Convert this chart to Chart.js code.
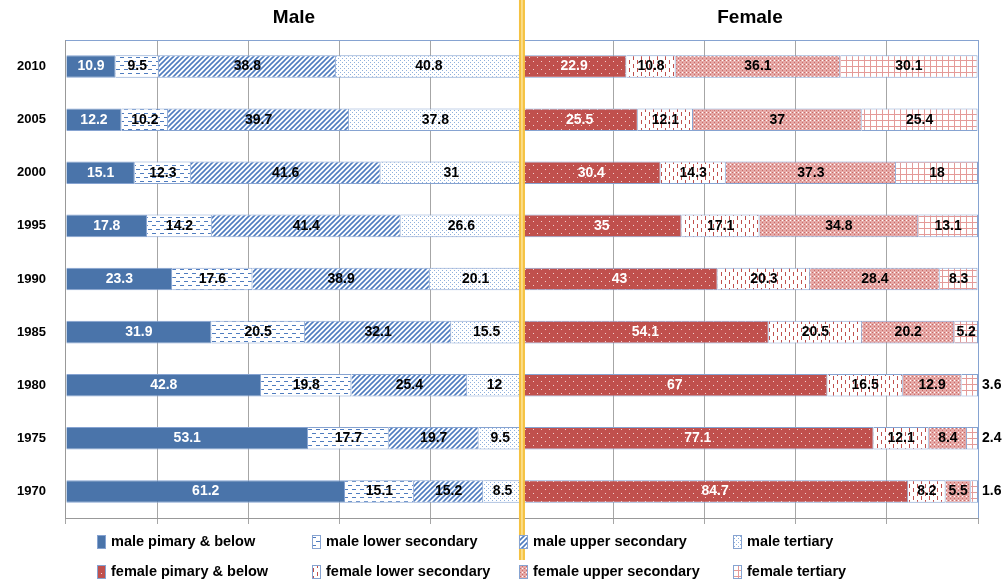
<!DOCTYPE html>
<html>
<head>
<meta charset="utf-8">
<script src="https://cdn.jsdelivr.net/npm/chart.js@4"></script>
<style>
  body { margin: 0; background: #fff; }
  #wrap { width: 1005px; height: 583px; }
</style>
</head>
<body>
<div id="wrap"><canvas id="chart"></canvas></div>
<script>
const years = ['2010', '2005', '2000', '1995', '1990', '1985', '1980', '1975', '1970'];

const malePrimary = [10.9, 12.2, 15.1, 17.8, 23.3, 31.9, 42.8, 53.1, 61.2];
const maleLower = [9.5, 10.2, 12.3, 14.2, 17.6, 20.5, 19.8, 17.7, 15.1];
const maleUpper = [38.8, 39.7, 41.6, 41.4, 38.9, 32.1, 25.4, 19.7, 15.2];
const maleTertiary = [40.8, 37.8, 31, 26.6, 20.1, 15.5, 12, 9.5, 8.5];

const femalePrimary = [22.9, 25.5, 30.4, 35, 43, 54.1, 67, 77.1, 84.7];
const femaleLower = [10.8, 12.1, 14.3, 17.1, 20.3, 20.5, 16.5, 12.1, 8.2];
const femaleUpper = [36.1, 37, 37.3, 34.8, 28.4, 20.2, 12.9, 8.4, 5.5];
const femaleTertiary = [30.1, 25.4, 18, 13.1, 8.3, 5.2, 3.6, 2.4, 1.6];

const FONT = '"Liberation Sans", Arial, sans-serif';

function pattern(draw, size) {
    const c = document.createElement('canvas');
    c.width = size; c.height = size;
    const g = c.getContext('2d');
    draw(g, size);
    return c.getContext('2d').createPattern(c, 'repeat');
}

const pMaleLower = pattern((g, s) => {
    g.fillStyle = '#fff'; g.fillRect(0, 0, s, s);
    g.fillStyle = '#4f7cbf';
    g.fillRect(0, 1, 4, 1); g.fillRect(4, 5, 4, 1);
}, 8);
const pMaleUpper = pattern((g, s) => {
    g.fillStyle = '#fff'; g.fillRect(0, 0, s, s);
    g.strokeStyle = '#4f7cbf'; g.lineWidth = 1.6;
    g.beginPath();
    g.moveTo(0, s); g.lineTo(s, 0);
    g.moveTo(-1, 1); g.lineTo(1, -1);
    g.moveTo(s - 1, s + 1); g.lineTo(s + 1, s - 1);
    g.stroke();
}, 5);
const pMaleTertiary = pattern((g, s) => {
    g.fillStyle = '#fff'; g.fillRect(0, 0, s, s);
    g.fillStyle = '#8fb0dc';
    g.fillRect(0, 0, 1, 1); g.fillRect(2, 2, 1, 1);
}, 4);
const pFemalePrimary = pattern((g, s) => {
    g.fillStyle = '#c0504d'; g.fillRect(0, 0, s, s);
    g.fillStyle = '#f2d0cf';
    g.fillRect(1, 1, 1, 1); g.fillRect(5, 5, 1, 1);
}, 8);
const pFemaleLower = pattern((g, s) => {
    g.fillStyle = '#fff'; g.fillRect(0, 0, s, s);
    g.fillStyle = '#c0504d';
    g.fillRect(1, 0, 1, 4); g.fillRect(5, 4, 1, 4);
}, 8);
const pFemaleUpper = pattern((g, s) => {
    g.fillStyle = '#e6a9a7'; g.fillRect(0, 0, s, s);
    g.fillStyle = '#c96b68';
    g.fillRect(0, 0, 1, 1); g.fillRect(2, 2, 1, 1);
    g.fillStyle = '#fff';
    g.fillRect(2, 0, 1, 1);
}, 4);
const pFemaleTertiary = pattern((g, s) => {
    g.fillStyle = '#fff'; g.fillRect(0, 0, s, s);
    g.fillStyle = '#e49a98';
    g.fillRect(0, 0, 1, s); g.fillRect(0, 0, s, 1);
}, 6);

const series = [
    { label: 'male pimary & below', data: malePrimary, bg: '#4a74aa', text: '#fff' },
    { label: 'male lower secondary', data: maleLower, bg: pMaleLower, text: '#000' },
    { label: 'male upper secondary', data: maleUpper, bg: pMaleUpper, text: '#000' },
    { label: 'male tertiary', data: maleTertiary, bg: pMaleTertiary, text: '#000' },
    { label: 'female pimary & below', data: femalePrimary, bg: pFemalePrimary, text: '#fff' },
    { label: 'female lower secondary', data: femaleLower, bg: pFemaleLower, text: '#000' },
    { label: 'female upper secondary', data: femaleUpper, bg: pFemaleUpper, text: '#000' },
    { label: 'female tertiary', data: femaleTertiary, bg: pFemaleTertiary, text: '#000' }
];

// Values inside the bars, small last ones outside
const barLabels = {
    id: 'barLabels',
    afterDatasetsDraw(chart) {
        const ctx = chart.ctx;
        ctx.save();
        ctx.font = 'bold 14px ' + FONT;
        ctx.textBaseline = 'middle';
        chart.data.datasets.forEach((ds, di) => {
            chart.getDatasetMeta(di).data.forEach((bar, i) => {
                const v = ds.data[i];
                const left = Math.min(bar.x, bar.base), right = Math.max(bar.x, bar.base);
                if (di === 7 && v < 4) {
                    ctx.fillStyle = '#000';
                    ctx.textAlign = 'left';
                    ctx.fillText(String(v), right + 4, bar.y);
                } else {
                    ctx.fillStyle = series[di].text;
                    ctx.textAlign = 'center';
                    ctx.fillText(String(v), (left + right) / 2, bar.y);
                }
            });
        });
        ctx.restore();
    }
};

// Panel titles, the orange divider and a 4x2 legend
const panels = {
    id: 'panels',
    afterDraw(chart) {
        const ctx = chart.ctx;
        const x = chart.scales.x;
        const area = chart.chartArea;
        ctx.save();
        ctx.strokeStyle = '#86a3d1';
        ctx.lineWidth = 1;
        ctx.beginPath();
        ctx.moveTo(area.left, area.top + 0.5); ctx.lineTo(area.right + 0.5, area.top + 0.5);
        ctx.lineTo(area.right + 0.5, area.bottom);
        ctx.stroke();

        ctx.font = 'bold 19px ' + FONT;
        ctx.fillStyle = '#000';
        ctx.textAlign = 'center';
        ctx.textBaseline = 'middle';
        ctx.fillText('Male', x.getPixelForValue(50), 18);
        ctx.fillText('Female', x.getPixelForValue(150), 18);
        const xm = x.getPixelForValue(100);
        ctx.fillStyle = '#f5c242';
        ctx.fillRect(xm - 3, 0, 6, 560);
        ctx.fillStyle = '#fff4c8';
        ctx.fillRect(xm - 0.5, 0, 1, 560);

        const cols = [97, 312, 519, 733];
        const rows = [542, 572];
        ctx.font = 'bold 14.5px ' + FONT;
        ctx.textAlign = 'left';
        series.forEach((s, i) => {
            const lx = cols[i % 4], ly = rows[Math.floor(i / 4)];
            ctx.fillStyle = s.bg;
            ctx.fillRect(lx, ly - 7, 9, 14);
            ctx.strokeStyle = '#86a3d1';
            ctx.strokeRect(lx + 0.5, ly - 6.5, 8, 13);
            ctx.fillStyle = '#000';
            ctx.fillText(s.label, lx + 14, ly);
        });
        ctx.restore();
    }
};

new Chart(document.getElementById('chart'), {
    type: 'bar',
    data: {
        labels: years,
        datasets: series.map(s => ({
            label: s.label,
            data: s.data,
            backgroundColor: s.bg,
            borderColor: '#86a3d1',
            borderWidth: 1,
            barPercentage: 0.85,
            categoryPercentage: 0.5
        }))
    },
    options: {
        indexAxis: 'y',
        responsive: true,
        maintainAspectRatio: false,
        animation: false,
        layout: { padding: { top: 40, right: 27, left: 5, bottom: 59 } },
        plugins: {
            legend: { display: false },
            tooltip: { enabled: false }
        },
        scales: {
            x: {
                stacked: true,
                min: 0,
                max: 200,
                ticks: { stepSize: 20, display: false },
                grid: { color: '#a6a6a6', tickLength: 6 },
                border: { color: '#999' }
            },
            y: {
                stacked: true,
                ticks: { color: '#000', font: { family: FONT, size: 13, weight: 'bold' }, padding: 12 },
                grid: { display: false },
                border: { color: '#999' }
            }
        }
    },
    plugins: [barLabels, panels]
});
</script>
</body>
</html>
